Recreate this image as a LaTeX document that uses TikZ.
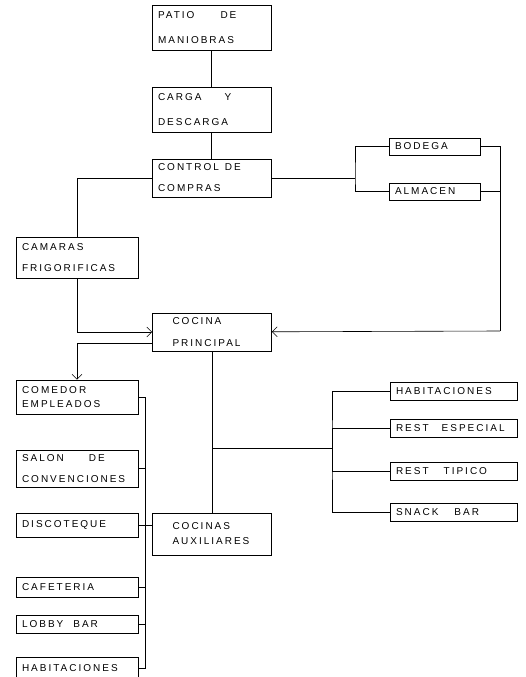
\documentclass[tikz,border=0pt]{standalone}
\usepackage{fontspec}
\usepackage{tikz}
\usetikzlibrary{arrows.meta,positioning}
\newfontfamily\lettering[LetterSpace=20]{Liberation Sans}

\begin{document}
\begin{tikzpicture}[x=1pt,y=-1pt,
  area/.style={rectangle,draw,line width=0.6pt,inner xsep=6pt,inner ysep=0pt,align=left,
               font=\lettering\fontsize{10}{14}\selectfont},
  top/.style={area,text width=107pt},
  side/.style={area,text width=110pt},
  room/.style={area,text width=115pt,minimum height=18pt},
  store/.style={area,text width=79pt,minimum height=17pt},
  kitchen/.style={area,inner xsep=20pt,text width=79pt},
  link/.style={line width=0.6pt},
  feed/.style={link,-{Straight Barb[length=5pt,width=10pt]}}
]
  \useasboundingbox (0,0) rectangle (525,677);
  \node[top,minimum height=45pt] (patio)   at (211.5,27.5) {PATIO\hspace*{26pt}DE\\[11pt]MANIOBRAS};
  \node[top,minimum height=45pt] (carga)   at (211.5,109.5){CARGA\hspace*{23pt}Y\\[11pt]DESCARGA};
  \node[top,minimum height=38pt] (control) at (211.5,178)  {CONTROL\hspace*{6pt}DE\\[7pt]COMPRAS};
  \node[store] (bodega)  at (434.5,146.5) {BODEGA};
  \node[store] (almacen) at (434.5,191.5) {ALMACEN};
  \node[side,minimum height=41pt] (camaras) at (77,257.5) {CAMARAS\\[7pt]FRIGORIFICAS};
  \node[kitchen,minimum height=38pt] (cocina) at (212,332) {COCINA\\[8pt]PRINCIPAL};
  \node[side,minimum height=34pt] (comedor) at (77,397)   {COMEDOR\\EMPLEADOS};
  \node[side,minimum height=37pt] (salon)   at (77,468.5) {SALON\hspace*{25pt}DE\\[7pt]CONVENCIONES};
  \node[side,minimum height=24pt] (disco)   at (77,525)   {DISCOTEQUE};
  \node[side,minimum height=20pt] (cafe)    at (77,587)   {CAFETERIA};
  \node[side,minimum height=18pt] (lobby)   at (77,624)   {LOBBY\hspace*{10pt}BAR};
  \node[side,minimum height=22pt] (habit)   at (77,668)   {HABITACIONES};
  \node[kitchen,minimum height=42pt] (auxiliar) at (212,534) {COCINAS\\[1pt]AUXILIARES};
  \node[room] (rooms)    at (453.5,391.5) {HABITACIONES};
  \node[room] (especial) at (453.5,428)   {REST\hspace*{13pt}ESPECIAL};
  \node[room] (tipico)   at (453.5,471.5) {REST\hspace*{15pt}TIPICO};
  \node[room] (snack)    at (453.5,512.5) {SNACK\hspace*{16pt}BAR};
  \coordinate (split)    at (355,178);
  \coordinate (ret)      at (500,331);
  \coordinate (tap)      at (212,448);
  \coordinate (roomfork) at (332,448);
  \coordinate (bus)      at (145,525);
  \draw[link](patio)--(carga);
  \draw[link](carga)--(control);
  \draw[link](control)--(split);
  \draw[link](bodega)-|(split)|-(almacen);
  \draw[link](bodega)-|(ret);
  \draw[link](almacen)-|(ret);
  \draw[feed](ret)--(cocina);
  \draw[link](control)-|(camaras);
  \draw[feed](camaras)|-(cocina);
  \draw[feed]([yshift=-11pt]cocina.west)-|(comedor);
  \draw[link](cocina)--(auxiliar);
  \draw[link](tap)--(roomfork);
  \draw[link](rooms)-|(roomfork)|-(snack);
  \draw[link](especial)-|(roomfork);
  \draw[link](tipico)-|(roomfork);
  \draw[link](comedor)-|(bus);
  \draw[link](salon)-|(bus);
  \draw[link](disco)--(disco-|auxiliar.west);
  \draw[link](cafe)-|(bus);
  \draw[link](lobby)-|(bus);
  \draw[link](habit)-|(bus);
\end{tikzpicture}
\end{document}
